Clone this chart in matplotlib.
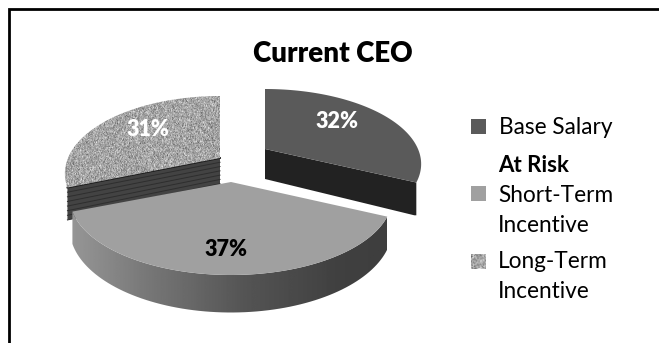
import numpy as np
import matplotlib
matplotlib.use("Agg")
import matplotlib.pyplot as plt
from matplotlib.patches import Polygon, Rectangle

plt.rcParams['font.family'] = ['Lato', 'DejaVu Sans']

title = "Current CEO"
categories = ["Base Salary", "Short-Term", "Incentive", "Long-Term", "Incentive"]
shares = [32, 37, 31]
group_label = "At Risk"

W, H = 659, 343
# pie shape, in pixels: each slice gets its own apex and radii
persp = 0.2
depth = 30
apex = [(265, 149), (231, 182), (220, 158)]
radii = [(153, 72), (158, 74.4), (152, 74.4)]
label_pos = [(337, 121), (226, 249), (148, 129)]
label_col = ["white", "black", "white"]

fig = plt.figure(figsize=(W / 100, H / 100), dpi=100)
ax = fig.add_axes([0, 0, 1, 1])
ax.set_xlim(0, W)
ax.set_ylim(H, 0)
ax.axis("off")


def project(i, theta):
    cx, cy = apex[i]
    rx, ry = radii[i]
    u = np.sin(theta)
    v = np.cos(theta)
    d = 1 + persp * v
    return cx + rx * u / d, cy - ry * v / d, depth / d


def textured(poly, img, extent, z=1):
    im = ax.imshow(img, extent=extent, cmap="gray", vmin=0, vmax=255,
                   interpolation="bilinear", aspect="auto", zorder=z)
    patch = Polygon(poly, closed=True, transform=ax.transData, fc="none", ec="none")
    ax.add_patch(patch)
    im.set_clip_path(patch)


# granite fill for the long-term slice and its legend swatch
rng = np.random.default_rng(4)
noise = np.clip(rng.normal(165, 27, (150, 200)), 80, 235)

edges = np.cumsum([0] + shares) / sum(shares) * 2 * np.pi

# long-term slice goes first, it sits behind the others
cx, cy = apex[2]
t0, t1 = edges[2], edges[3]
x, y, d = project(2, t0)
cut = [(cx, cy), (x, y), (x, y + d), (cx, cy + depth)]
ax.add_patch(Polygon(cut, closed=True, fc="#434343", ec="none", zorder=1))
for f in np.linspace(0.0, 1.0, 8):
    ax.plot([cx, x], [cy + f * depth, y + f * d], color="#2e2e2e", lw=0.7, zorder=1.1)
ax.plot([cx, x], [cy, y], color="#1c1c1c", lw=1.3, zorder=1.2)
ax_, ay_, _ = project(2, np.linspace(t0, t1, 80))
top = np.column_stack([np.r_[cx, ax_], np.r_[cy, ay_]])
textured(top, noise, (40, 240, 200, 80), z=1.3)

# base salary slice
cx, cy = apex[0]
t0, t1 = edges[0], edges[1]
x, y, d = project(0, t1)
ax.add_patch(Polygon([(cx, cy), (x, y), (x, y + d), (x - 2, y + d), (cx, cy + depth)],
                     closed=True, fc="#222222", ec="none", zorder=2))
ax_, ay_, _ = project(0, np.linspace(t0, t1, 80))
top = np.column_stack([np.r_[cx, ax_], np.r_[cy, ay_]])
ax.add_patch(Polygon(top, closed=True, fc="#5a5a5a", ec="none", zorder=2.1))

# short-term slice, in front, with the shaded rim
cx, cy = apex[1]
t0, t1 = edges[1], edges[2]
ax_, ay_, ad_ = project(1, np.linspace(t0, t1, 80))
rim = np.column_stack([np.r_[ax_, ax_[::-1]], np.r_[ay_, (ay_ + ad_)[::-1]]])
# brightness runs dark on the right to light on the left
ramp = np.interp(np.linspace(0, 1, 320), [0, 0.15, 0.45, 0.75, 1], [62, 64, 84, 118, 150])
textured(rim, ramp[None, :], (ax_.max(), ax_.min(), 320, 200), z=3)
top = np.column_stack([np.r_[cx, ax_], np.r_[cy, ay_]])
ax.add_patch(Polygon(top, closed=True, fc="#a0a0a0", ec="none", zorder=3.1))

for s, (px, py), c in zip(shares, label_pos, label_col):
    ax.text(px, py, "%d%%" % s, color=c, fontsize=15.5, fontweight="heavy",
            ha="center", va="center", zorder=5)

ax.text(333, 54, title, fontsize=20, fontweight="heavy", ha="center", va="center", color="black")

# legend
sw = 15
ax.add_patch(Rectangle((471, 119), sw, sw, fc="#5a5a5a", ec="none"))
ax.add_patch(Rectangle((471, 186), sw, sw, fc="#a0a0a0", ec="none"))
textured([(471, 254), (486, 254), (486, 269), (471, 269)], noise[:14, :14], (471, 486, 269, 254), z=2)
ax.text(499, 127, categories[0], fontsize=16.3, va="center", ha="left")
ax.text(498, 166, group_label, fontsize=16, fontweight="bold", va="center", ha="left")
ax.text(498, 195, categories[1], fontsize=16.3, va="center", ha="left")
ax.text(498, 225, categories[2], fontsize=16.3, va="center", ha="left")
ax.text(498, 262, categories[3], fontsize=16.3, va="center", ha="left")
ax.text(498, 292, categories[4], fontsize=16.3, va="center", ha="left")

# frame is only the top and left lines
ax.plot([8.5, 8.5, W], [H, 8.5, 8.5], color="black", lw=2, solid_joinstyle="miter", zorder=6)

ax.set_xlim(0, W)
ax.set_ylim(H, 0)
fig.savefig("out.png", dpi=100)
